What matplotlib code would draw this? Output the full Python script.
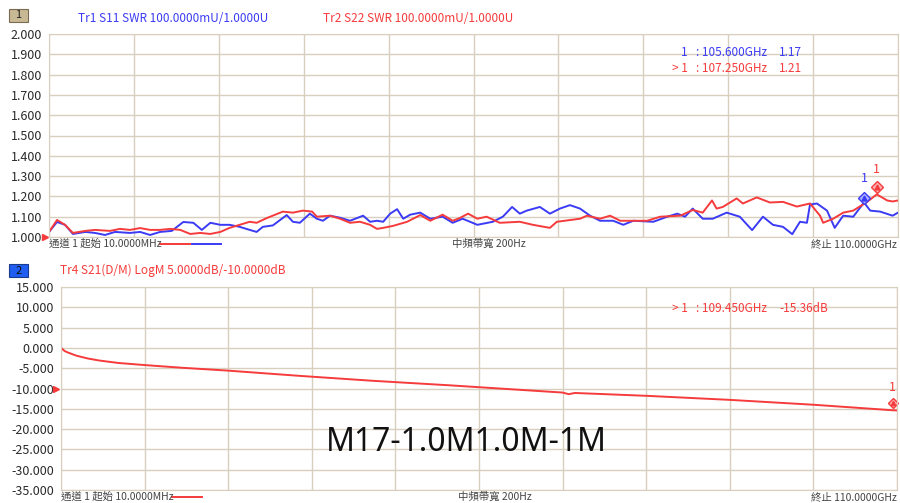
import matplotlib
matplotlib.use("Agg")
import matplotlib.pyplot as plt
from matplotlib.patches import Rectangle
from matplotlib.lines import Line2D

plt.rcParams['font.family'] = ['Noto Sans CJK TC', 'DejaVu Sans']

# --- data ---
s11_freq = [0.01, 1.04, 2.07, 3.1, 4.7, 5.96, 7.26, 8.55, 10.5, 11.8, 13.1, 14.4, 15.9, 17.4,
            18.7, 19.8, 20.9, 22.2, 23.4, 24.7, 26.0, 26.9, 27.7, 29.0, 30.8, 31.6, 32.5, 33.8,
            34.7, 35.5, 36.4, 37.7, 39.0, 40.7, 41.6, 42.5, 43.3, 44.2, 45.1, 45.9, 46.8, 48.1,
            49.4, 51.0, 52.3, 53.6, 55.5, 57.5, 58.8, 60.0, 61.0, 61.9, 63.6, 64.9, 66.2, 67.5,
            68.8, 70.1, 71.4, 73.1, 74.4, 75.7, 78.3, 80.1, 81.4, 82.4, 83.4, 84.7, 86.0, 87.8,
            89.5, 91.1, 92.5, 93.8, 95.1, 96.3, 97.3, 98.2, 98.6, 99.5, 100.8, 101.8, 102.9,
            104.2, 105.6, 106.4, 107.7, 109.3, 110.0]
s11_swr = [1.025, 1.074, 1.06, 1.015, 1.025, 1.02, 1.01, 1.025, 1.02, 1.025, 1.01, 1.025, 1.03, 1.074,
           1.07, 1.035, 1.07, 1.06, 1.06, 1.05, 1.035, 1.025, 1.05, 1.057, 1.108, 1.075, 1.07, 1.115,
           1.09, 1.08, 1.105, 1.095, 1.08, 1.105, 1.075, 1.08, 1.075, 1.115, 1.137, 1.09, 1.11, 1.12,
           1.09, 1.1, 1.07, 1.09, 1.06, 1.075, 1.1, 1.148, 1.115, 1.13, 1.148, 1.115, 1.14, 1.157,
           1.14, 1.105, 1.08, 1.08, 1.06, 1.08, 1.075, 1.1, 1.115, 1.1, 1.14, 1.09, 1.09, 1.12,
           1.1, 1.034, 1.1, 1.06, 1.05, 1.014, 1.075, 1.07, 1.16, 1.165, 1.13, 1.045, 1.105,
           1.1, 1.17, 1.13, 1.125, 1.105, 1.12]

s22_freq = [0.01, 1.04, 2.07, 3.1, 4.7, 5.96, 7.9, 9.2, 10.5, 11.8, 13.1, 14.4, 15.7, 17.0,
            18.3, 19.6, 20.9, 22.2, 23.4, 24.7, 26.0, 26.9, 28.2, 30.3, 31.6, 32.9, 34.1, 34.7,
            36.4, 37.7, 39.0, 40.3, 41.6, 42.5, 43.3, 44.6, 46.4, 48.1, 49.4, 51.0, 52.3, 53.2,
            54.3, 55.5, 56.7, 58.4, 61.0, 62.7, 64.9, 65.8, 68.8, 69.7, 71.4, 72.7, 74.0, 77.5,
            79.2, 81.8, 83.4, 84.7, 85.9, 86.5, 87.3, 89.1, 89.9, 91.7, 93.4, 95.1, 96.9, 98.6,
            99.9, 100.3, 101.6, 102.9, 104.2, 106.0, 107.25, 107.7, 108.6, 109.3, 110.0]
s22_swr = [1.025, 1.084, 1.06, 1.02, 1.03, 1.035, 1.03, 1.04, 1.035, 1.044, 1.035, 1.035, 1.04, 1.035,
           1.015, 1.02, 1.015, 1.025, 1.045, 1.06, 1.075, 1.07, 1.093, 1.125, 1.12, 1.13, 1.125, 1.1,
           1.105, 1.09, 1.07, 1.075, 1.06, 1.04, 1.045, 1.055, 1.075, 1.108, 1.08, 1.11, 1.08, 1.093,
           1.115, 1.09, 1.1, 1.07, 1.075, 1.06, 1.045, 1.075, 1.09, 1.105, 1.09, 1.105, 1.08, 1.08,
           1.1, 1.105, 1.133, 1.12, 1.18, 1.14, 1.148, 1.19, 1.165, 1.195, 1.17, 1.173, 1.15, 1.165,
           1.105, 1.07, 1.09, 1.12, 1.13, 1.173, 1.21, 1.2, 1.18, 1.175, 1.18]

s21_freq = [0.01, 0.5, 1.0, 2.0, 3.5, 5.0, 7.5, 10.8, 16.0, 22.0, 31.5, 41.0, 51.0, 66.0,
            66.8, 67.6, 77.0, 88.0, 99.0, 109.45, 110.0]
s21_db = [0.0, -0.8, -1.2, -1.9, -2.6, -3.1, -3.7, -4.2, -4.9, -5.6, -6.9, -8.1, -9.2, -11.0,
          -11.4, -11.1, -11.8, -12.8, -14.0, -15.36, -15.4]

swr_ticks = [1.0, 1.1, 1.2, 1.3, 1.4, 1.5, 1.6, 1.7, 1.8, 1.9, 2.0]
db_ticks = [-35, -30, -25, -20, -15, -10, -5, 0, 5, 10, 15]
freq_ticks = [0, 11, 22, 33, 44, 55, 66, 77, 88, 99, 110]

BLUE = '#3b3bf5'
RED = '#f53b3b'
GRID = '#d8cfbf'
W, H = 900, 503

fig = plt.figure(figsize=(9, 5.03), dpi=100)


def fx(px):
    return px / W


def fy(py):
    return 1 - py / H


def style(ax, ticks, fmt):
    ax.set_xlim(0, 110)
    ax.set_xticks(freq_ticks)
    ax.set_yticks(ticks)
    ax.set_ylim(ticks[0], ticks[-1])
    ax.set_yticklabels([fmt % t for t in ticks], fontsize=9, color='#2a2a2a')
    ax.set_xticklabels([])
    ax.tick_params(length=0, pad=5)
    ax.grid(True, color=GRID, linewidth=1)
    for s in ax.spines.values():
        s.set_color(GRID)


# ---- top: SWR ----
ax1 = fig.add_axes([fx(49), fy(237), fx(849), 203 / H])
style(ax1, swr_ticks, '%.3f')
ax1.plot(s11_freq, s11_swr, color=BLUE, lw=1.4)
ax1.plot(s22_freq, s22_swr, color=RED, lw=1.4)
ax1.plot(105.6, 1.19, marker='D', ms=6, mfc='#aab0ff', mec=BLUE, clip_on=False)
ax1.plot(105.6, 1.19, marker='^', ms=3.5, color=BLUE)
ax1.text(105.6, 1.27, '1', color=BLUE, fontsize=9, ha='center')
ax1.plot(107.25, 1.245, marker='D', ms=6, mfc='#ffb0b0', mec=RED, clip_on=False)
ax1.plot(107.25, 1.245, marker='^', ms=3.5, color=RED)
ax1.text(107.25, 1.315, '1', color=RED, fontsize=9, ha='center')
ax1.plot(-0.5, 1.0, marker='>', ms=5, color=RED, clip_on=False)

# ---- bottom: S21 ----
ax2 = fig.add_axes([fx(61), fy(490), fx(836), 203 / H])
style(ax2, db_ticks, '%.3f')
ax2.plot(s21_freq, s21_db, color=RED, lw=1.4)
ax2.plot(109.45, -13.6, marker='D', ms=5, mfc='#ffb0b0', mec=RED, clip_on=False)
ax2.plot(109.45, -13.6, marker='^', ms=3, color=RED, clip_on=False)
ax2.text(109.45, -9.8, '1', color=RED, fontsize=9, ha='center', va='center')
ax2.plot(-0.6, -10, marker='>', ms=5, color=RED, clip_on=False)
ax2.text(53.3, -23.3, 'M17-1.0M1.0M-1M', fontsize=23, ha='center', va='center',
         color='#111111', family=['Noto Sans', 'DejaVu Sans'])

# ---- header labels ----
fig.add_artist(Rectangle((fx(9), fy(22)), fx(19), 13 / H, facecolor='#c9b894',
                         edgecolor='#7a6c50', lw=0.8))
fig.text(fx(18.5), fy(15.5), '1', fontsize=8, ha='center', va='center', color='#222222')
fig.add_artist(Rectangle((fx(9), fy(277)), fx(19), 13 / H, facecolor='#1f5ef0',
                         edgecolor='#1a3a90', lw=0.8))
fig.text(fx(18.5), fy(270.5), '2', fontsize=8, ha='center', va='center', color='#111111')

fig.text(fx(78), fy(18), 'Tr1 S11 SWR 100.0000mU/1.0000U', fontsize=8.5, color=BLUE, va='center')
fig.text(fx(323), fy(18), 'Tr2 S22 SWR 100.0000mU/1.0000U', fontsize=8.5, color=RED, va='center')
fig.text(fx(60), fy(270), 'Tr4 S21(D/M) LogM 5.0000dB/-10.0000dB', fontsize=8.5, color=RED, va='center')

# marker readouts
fig.text(fx(688), fy(53), '1', fontsize=8.5, color=BLUE, ha='right', va='center')
fig.text(fx(696), fy(53), ': 105.600GHz', fontsize=8.5, color=BLUE, va='center')
fig.text(fx(779), fy(53), '1.17', fontsize=8.5, color=BLUE, va='center')
fig.text(fx(688), fy(69), '> 1', fontsize=8.5, color=RED, ha='right', va='center')
fig.text(fx(696), fy(69), ': 107.250GHz', fontsize=8.5, color=RED, va='center')
fig.text(fx(779), fy(69), '1.21', fontsize=8.5, color=RED, va='center')
fig.text(fx(688), fy(308), '> 1', fontsize=8.5, color=RED, ha='right', va='center')
fig.text(fx(696), fy(308), ': 109.450GHz', fontsize=8.5, color=RED, va='center')
fig.text(fx(779), fy(308), '-15.36dB', fontsize=8.5, color=RED, va='center')

# footers
foot = dict(fontsize=7.5, color='#444444', va='center')
fig.text(fx(49), fy(244), '通道 1 起始 10.0000MHz', **foot)
fig.add_artist(Line2D([fx(160), fx(190)], [fy(244), fy(244)], color=RED, lw=1.4))
fig.add_artist(Line2D([fx(192), fx(221)], [fy(244), fy(244)], color=BLUE, lw=1.4))
fig.text(fx(452), fy(244), '中頻帶寬 200Hz', **foot)
fig.text(fx(897), fy(244), '終止 110.0000GHz', ha='right', **foot)

fig.text(fx(61), fy(497), '通道 1 起始 10.0000MHz', **foot)
fig.add_artist(Line2D([fx(172), fx(202)], [fy(497), fy(497)], color=RED, lw=1.4))
fig.text(fx(458), fy(497), '中頻帶寬 200Hz', **foot)
fig.text(fx(897), fy(497), '終止 110.0000GHz', ha='right', **foot)

fig.savefig('out.png', dpi=100, facecolor='white')
